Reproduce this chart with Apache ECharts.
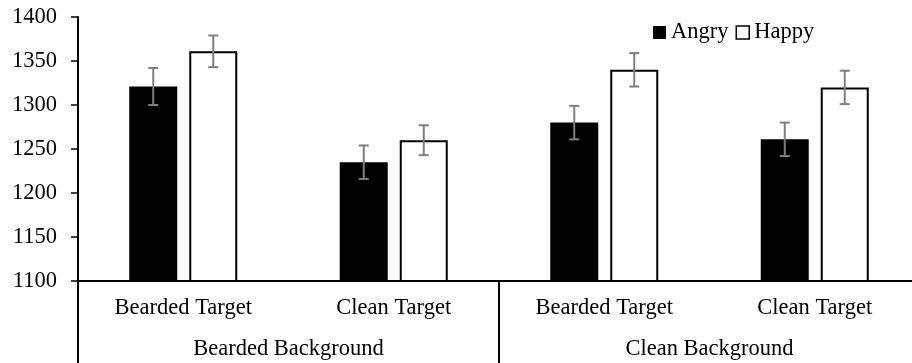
<!DOCTYPE html>
<html>
<head>
<meta charset="utf-8">
<script src="https://cdn.jsdelivr.net/npm/echarts@6/dist/echarts.min.js"></script>
<style>
  html, body { margin: 0; padding: 0; background: #fff; }
  #chart { width: 912px; height: 363px; }
</style>
</head>
<body>
<div id="chart"></div>
<script>
// Response times (ms) by target type within each background condition
const targets = ['Bearded Target', 'Clean Target', 'Bearded Target', 'Clean Target'];
const backgrounds = ['Bearded Background', 'Clean Background'];
const angry = [1321, 1235, 1280, 1261];
const happy = [1361, 1260, 1340, 1320];
const angryErr = [21, 19, 19, 19];
const happyErr = [18, 17, 19, 19];
const yTicks = { min: 1100, max: 1400, step: 50 };

const FONT = "'Liberation Serif', 'Times New Roman', serif";
const FS = 22.5;
const BAR_W = 48;
const BAR_GAP = 0.25;
const half = (BAR_W * (1 + BAR_GAP)) / 2; // distance from category centre to each bar centre

function errorBars(values, errs, shift) {
  return {
    type: 'custom',
    xAxisIndex: 0,
    yAxisIndex: 0,
    z: 5,
    silent: true,
    data: values.map((v, i) => [i, v, errs[i]]),
    renderItem: function (params, api) {
      const i = api.value(0), v = api.value(1), e = api.value(2);
      const x = api.coord([i, v])[0] + shift;
      const yHi = api.coord([i, v + e])[1];
      const yLo = api.coord([i, v - e])[1];
      const cap = 5;
      const style = { stroke: '#7f7f7f', lineWidth: 2 };
      return {
        type: 'group',
        children: [
          { type: 'line', shape: { x1: x, y1: yHi, x2: x, y2: yLo }, style: style },
          { type: 'line', shape: { x1: x - cap, y1: yHi, x2: x + cap, y2: yHi }, style: style },
          { type: 'line', shape: { x1: x - cap, y1: yLo, x2: x + cap, y2: yLo }, style: style }
        ]
      };
    }
  };
}

const chart = echarts.init(document.getElementById('chart'), null, { renderer: 'canvas' });
chart.setOption({
  animation: false,
  backgroundColor: '#ffffff',
  textStyle: { fontFamily: FONT, color: '#000' },
  // plot area runs slightly past the right edge of the canvas
  grid: { left: 78, top: 17, bottom: 82, width: 842, containLabel: false, outerBoundsMode: 'none' },
  legend: {
    data: [
      { name: 'Angry', itemStyle: { color: '#000', borderWidth: 0 } },
      { name: 'Happy', itemStyle: { color: '#fff', borderColor: '#000', borderWidth: 1.5 } }
    ],
    left: 653,
    top: 21,
    icon: 'rect',
    itemWidth: 13,
    itemHeight: 13,
    itemGap: 7,
    padding: 0,
    textStyle: { fontFamily: FONT, fontSize: FS, color: '#000' }
  },
  xAxis: [
    {
      type: 'category',
      data: targets,
      position: 'bottom',
      axisLine: { show: true, lineStyle: { color: '#000', width: 2 } },
      axisTick: { show: false },
      axisLabel: { fontFamily: FONT, fontSize: FS, color: '#000', margin: 16, interval: 0 },
      splitLine: { show: false }
    },
    {
      type: 'category',
      data: backgrounds,
      position: 'bottom',
      axisLine: { show: false },
      axisTick: { show: true, length: 82, lineStyle: { color: '#000', width: 2 } },
      axisLabel: { fontFamily: FONT, fontSize: FS, color: '#000', margin: 57, interval: 0 },
      splitLine: { show: false }
    }
  ],
  yAxis: {
    type: 'value',
    min: yTicks.min,
    max: yTicks.max,
    interval: yTicks.step,
    axisLine: { show: true, lineStyle: { color: '#000', width: 2 } },
    axisTick: { show: true, length: 7, lineStyle: { color: '#000', width: 1.5 } },
    axisLabel: {
      fontFamily: FONT, fontSize: FS, color: '#000', margin: 21,
      formatter: function (v) { return String(v); }
    },
    splitLine: { show: false }
  },
  series: [
    {
      name: 'Angry',
      type: 'bar',
      data: angry,
      barWidth: BAR_W,
      barGap: (BAR_GAP * 100) + '%',
      itemStyle: { color: '#000', borderWidth: 0 }
    },
    {
      name: 'Happy',
      type: 'bar',
      data: happy,
      barWidth: BAR_W,
      barGap: (BAR_GAP * 100) + '%',
      itemStyle: { color: '#fff', borderColor: '#000', borderWidth: 2 }
    },
    errorBars(angry, angryErr, -half),
    errorBars(happy, happyErr, half)
  ]
});
</script>
</body>
</html>
